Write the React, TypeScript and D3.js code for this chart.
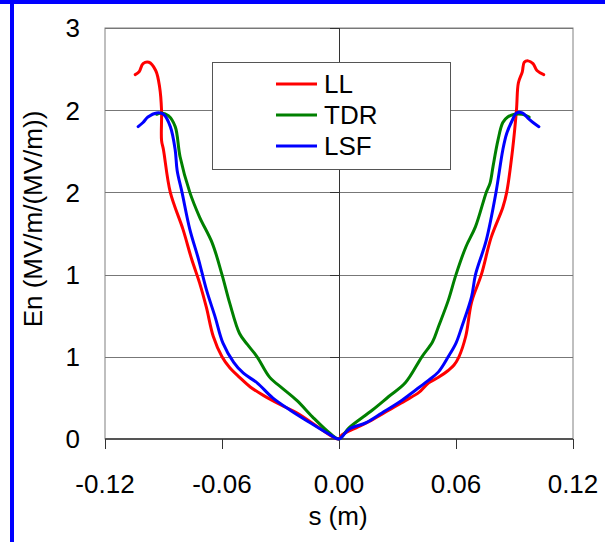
import React from 'react';
import * as d3 from 'd3';

// s (m) / En values
const llS = [-0.1045, -0.1025, -0.1005, -0.0975, -0.094, -0.092, -0.091, -0.091, -0.09, -0.0865, -0.08, -0.0755, -0.0715, -0.068, -0.0645, -0.06, -0.056, -0.051, -0.0455, -0.039, -0.03, -0.0215, -0.011, -0.003, 0, 0.0015, 0.01, 0.017, 0.0255, 0.034, 0.041, 0.046, 0.051, 0.056, 0.059, 0.0615, 0.065, 0.068, 0.073, 0.078, 0.084, 0.086, 0.089, 0.091, 0.092, 0.094, 0.095, 0.097, 0.0995, 0.1015, 0.105];
const llE = [2.66, 2.68, 2.74, 2.75, 2.69, 2.57, 2.4, 2.18, 2.11, 1.8, 1.53, 1.31, 1.14, 0.96, 0.75, 0.6, 0.52, 0.45, 0.38, 0.32, 0.25, 0.19, 0.09, 0.015, 0, 0.03, 0.09, 0.14, 0.21, 0.28, 0.34, 0.41, 0.45, 0.5, 0.54, 0.6, 0.75, 1.0, 1.2, 1.47, 1.69, 1.8, 2.11, 2.4, 2.6, 2.68, 2.75, 2.76, 2.74, 2.69, 2.66];

const tdrS = [-0.0935, -0.091, -0.0875, -0.084, -0.0815, -0.0765, -0.0715, -0.065, -0.06, -0.056, -0.051, -0.047, -0.042, -0.0355, -0.029, -0.0215, -0.0135, -0.0045, 0, 0.005, 0.017, 0.0255, 0.034, 0.0425, 0.048, 0.051, 0.056, 0.06, 0.065, 0.07, 0.0755, 0.0775, 0.079, 0.0815, 0.084, 0.0865, 0.09, 0.094, 0.0975];
const tdrE = [2.37, 2.38, 2.36, 2.28, 2.06, 1.8, 1.62, 1.43, 1.2, 0.99, 0.77, 0.69, 0.6, 0.45, 0.37, 0.28, 0.16, 0.04, 0, 0.08, 0.21, 0.31, 0.41, 0.6, 0.71, 0.82, 1.01, 1.2, 1.4, 1.55, 1.8, 1.87, 1.99, 2.18, 2.31, 2.35, 2.37, 2.37, 2.35];

const lsfS = [-0.103, -0.1005, -0.098, -0.0935, -0.09, -0.0865, -0.084, -0.083, -0.0805, -0.0765, -0.072, -0.068, -0.0635, -0.0595, -0.054, -0.049, -0.042, -0.034, -0.025, -0.015, -0.0045, 0, 0.005, 0.014, 0.022, 0.031, 0.0395, 0.046, 0.051, 0.056, 0.06, 0.063, 0.068, 0.07, 0.0755, 0.0805, 0.084, 0.086, 0.089, 0.091, 0.094, 0.097, 0.0995, 0.1025];
const lsfE = [2.28, 2.31, 2.35, 2.38, 2.37, 2.28, 2.11, 1.96, 1.8, 1.53, 1.31, 1.09, 0.89, 0.7, 0.56, 0.48, 0.41, 0.3, 0.21, 0.12, 0.03, 0, 0.07, 0.12, 0.19, 0.27, 0.36, 0.43, 0.49, 0.6, 0.7, 0.82, 1.04, 1.2, 1.45, 1.8, 2.11, 2.23, 2.33, 2.38, 2.38, 2.34, 2.31, 2.28];

const seriesNames = ['LL', 'TDR', 'LSF'];
const seriesColors = ['#ff0000', '#008000', '#0000ff'];
const xTicks = [-0.12, -0.06, 0, 0.06, 0.12];
const yTicks = [0, 0.6, 1.2, 1.8, 2.4, 3.0];

const W = 605, H = 542;
const margin = { left: 105, right: 32, top: 28, bottom: 103 };
const font = 'Arial, "Liberation Sans", sans-serif';

export default function App() {
  const x = d3.scaleLinear().domain([-0.12, 0.12]).range([margin.left, W - margin.right]);
  const y = d3.scaleLinear().domain([0, 3]).range([H - margin.bottom, margin.top]);
  const line = d3.line<[number, number]>()
    .x(d => x(d[0]))
    .y(d => y(d[1]))
    .curve(d3.curveCatmullRom.alpha(0.5));

  const series = [
    d3.zip(llS, llE),
    d3.zip(tdrS, tdrE),
    d3.zip(lsfS, lsfE),
  ] as [number, number][][];

  const fmtY = d3.format('.0f');
  const fmtX = (v: number) => d3.format('.2f')(v).replace('\u2212', '-');
  const x0 = x(0);
  const yBottom = y(0);

  return (
    <div style={{ position: 'absolute', left: 0, top: 0 }}>
      <svg width={W} height={H} style={{ display: 'block', background: '#fff' }} fontFamily={font}>
        {/* blue frame */}
        <rect x={0} y={0} width={W} height={4} fill="#0000ff" />
        <rect x={10} y={0} width={4} height={H} fill="#0000ff" />

        {/* plot frame + grid */}
        <rect x={margin.left} y={margin.top} width={W - margin.left - margin.right}
          height={yBottom - margin.top} fill="none" stroke="#808080" strokeWidth={1} />
        {yTicks.slice(1).map(t => (
          <line key={t} x1={margin.left} x2={W - margin.right} y1={Math.round(y(t)) + 0.5} y2={Math.round(y(t)) + 0.5}
            stroke="#777" strokeWidth={1} />
        ))}

        {/* y axis at s = 0 */}
        <line x1={Math.round(x0) + 0.5} x2={Math.round(x0) + 0.5} y1={margin.top} y2={yBottom} stroke="#333" strokeWidth={1} />
        {yTicks.map(t => (
          <line key={'yt' + t} x1={x0 - 9} x2={x0} y1={Math.round(y(t)) + 0.5} y2={Math.round(y(t)) + 0.5}
            stroke="#333" strokeWidth={1} />
        ))}
        {yTicks.map(t => (
          <text key={'yl' + t} x={80} y={y(t)} dy="0.36em" textAnchor="end" fontSize={26} fill="#000">
            {fmtY(t)}
          </text>
        ))}

        {/* x axis */}
        <line x1={margin.left} x2={W - margin.right} y1={yBottom} y2={yBottom} stroke="#555" strokeWidth={2} />
        {xTicks.map(t => (
          <line key={'xt' + t} x1={Math.round(x(t)) + 0.5} x2={Math.round(x(t)) + 0.5} y1={yBottom} y2={yBottom + 10}
            stroke="#333" strokeWidth={1} />
        ))}
        {xTicks.map(t => (
          <text key={'xl' + t} x={x(t)} y={493} textAnchor="middle" fontSize={26} fill="#000">
            {fmtX(t)}
          </text>
        ))}

        {/* legend */}
        <rect x={212.5} y={62.5} width={238} height={107} fill="#fff" stroke="#555" strokeWidth={1} />
        {seriesNames.map((name, i) => (
          <g key={name}>
            <line x1={276} x2={317} y1={84 + i * 31} y2={84 + i * 31} stroke={seriesColors[i]} strokeWidth={3} />
            <text x={324} y={84 + i * 31} dy="0.36em" fontSize={26} fill="#000">{name}</text>
          </g>
        ))}

        {/* data */}
        {series.map((s, i) => (
          <path key={i} d={line(s) || ''} fill="none" stroke={seriesColors[i]} strokeWidth={3}
            strokeLinejoin="round" strokeLinecap="round" />
        ))}

        {/* axis titles */}
        <text x={338} y={525} textAnchor="middle" fontSize={26} fill="#000">s (m)</text>
        <text transform="translate(42,219) rotate(-90)" textAnchor="middle" fontSize={26} fill="#000">
          En (MV/m/(MV/m))
        </text>
      </svg>
    </div>
  );
}
